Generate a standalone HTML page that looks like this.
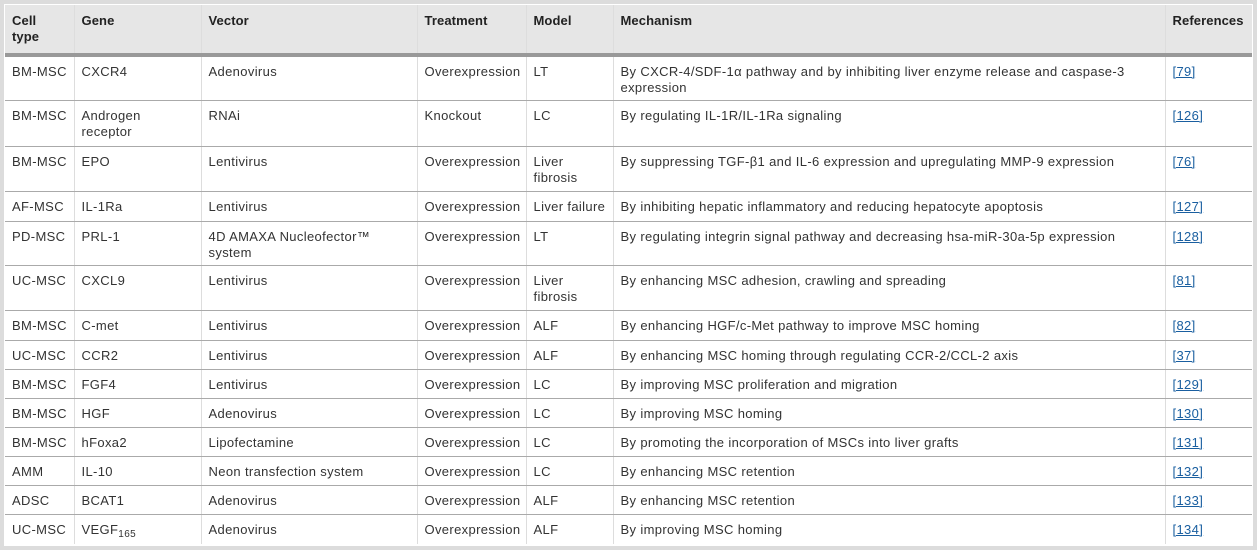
<!DOCTYPE html>
<html><head><meta charset="utf-8"><style>
html,body{margin:0;padding:0;background:#fff;}
body{width:1257px;height:550px;position:relative;overflow:hidden;font-family:"Liberation Sans",Arial,sans-serif;}
.frame{position:absolute;left:0;top:0;width:1249px;height:542px;border:4px solid #dcdcdc;}
table{position:absolute;left:5px;top:5px;width:1247px;border-collapse:collapse;table-layout:fixed;font-size:13px;letter-spacing:0.35px;color:#333;}
td,th{vertical-align:top;padding:7px 6px 0 7px;line-height:16px;border-left:1px solid #ddd;border-bottom:1px solid #aaa;box-sizing:border-box;overflow:hidden;white-space:nowrap;}
td:first-child,th:first-child{border-left:none;}
th{background:#e6e6e6;text-align:left;font-weight:bold;color:#222;border-bottom:4px solid #999;padding-top:8px;letter-spacing:0.1px;}
tr:last-child td{border-bottom:none;}
a{color:#1a5fa0;text-decoration:underline;}
sub{font-size:10px;vertical-align:-3px;line-height:0;}
</style></head><body>
<div class="frame"></div>
<table>
<colgroup><col style="width:69px"><col style="width:127px"><col style="width:216px"><col style="width:109px"><col style="width:87px"><col style="width:552px"><col style="width:87px"></colgroup>
<tr style="height:50px"><th>Cell<br>type</th><th>Gene</th><th>Vector</th><th>Treatment</th><th>Model</th><th>Mechanism</th><th>References</th></tr>
<tr style="height:45px"><td>BM-MSC</td><td>CXCR4</td><td>Adenovirus</td><td>Overexpression</td><td>LT</td><td>By CXCR-4/SDF-1α pathway and by inhibiting liver enzyme release and caspase-3<br>expression</td><td><a>[79]</a></td></tr>
<tr style="height:46px"><td>BM-MSC</td><td>Androgen<br>receptor</td><td>RNAi</td><td>Knockout</td><td>LC</td><td>By regulating IL-1R/IL-1Ra signaling</td><td><a>[126]</a></td></tr>
<tr style="height:45px"><td>BM-MSC</td><td>EPO</td><td>Lentivirus</td><td>Overexpression</td><td>Liver<br>fibrosis</td><td>By suppressing TGF-β1 and IL-6 expression and upregulating MMP-9 expression</td><td><a>[76]</a></td></tr>
<tr style="height:30px"><td>AF-MSC</td><td>IL-1Ra</td><td>Lentivirus</td><td>Overexpression</td><td>Liver failure</td><td>By inhibiting hepatic inflammatory and reducing hepatocyte apoptosis</td><td><a>[127]</a></td></tr>
<tr style="height:44px"><td>PD-MSC</td><td>PRL-1</td><td>4D AMAXA Nucleofector™<br>system</td><td>Overexpression</td><td>LT</td><td>By regulating integrin signal pathway and decreasing hsa-miR-30a-5p expression</td><td><a>[128]</a></td></tr>
<tr style="height:45px"><td>UC-MSC</td><td>CXCL9</td><td>Lentivirus</td><td>Overexpression</td><td>Liver<br>fibrosis</td><td>By enhancing MSC adhesion, crawling and spreading</td><td><a>[81]</a></td></tr>
<tr style="height:30px"><td>BM-MSC</td><td>C-met</td><td>Lentivirus</td><td>Overexpression</td><td>ALF</td><td>By enhancing HGF/c-Met pathway to improve MSC homing</td><td><a>[82]</a></td></tr>
<tr style="height:29px"><td>UC-MSC</td><td>CCR2</td><td>Lentivirus</td><td>Overexpression</td><td>ALF</td><td>By enhancing MSC homing through regulating CCR-2/CCL-2 axis</td><td><a>[37]</a></td></tr>
<tr style="height:29px"><td>BM-MSC</td><td>FGF4</td><td>Lentivirus</td><td>Overexpression</td><td>LC</td><td>By improving MSC proliferation and migration</td><td><a>[129]</a></td></tr>
<tr style="height:29px"><td>BM-MSC</td><td>HGF</td><td>Adenovirus</td><td>Overexpression</td><td>LC</td><td>By improving MSC homing</td><td><a>[130]</a></td></tr>
<tr style="height:29px"><td>BM-MSC</td><td>hFoxa2</td><td>Lipofectamine</td><td>Overexpression</td><td>LC</td><td>By promoting the incorporation of MSCs into liver grafts</td><td><a>[131]</a></td></tr>
<tr style="height:29px"><td>AMM</td><td>IL-10</td><td>Neon transfection system</td><td>Overexpression</td><td>LC</td><td>By enhancing MSC retention</td><td><a>[132]</a></td></tr>
<tr style="height:29px"><td>ADSC</td><td>BCAT1</td><td>Adenovirus</td><td>Overexpression</td><td>ALF</td><td>By enhancing MSC retention</td><td><a>[133]</a></td></tr>
<tr style="height:30px"><td>UC-MSC</td><td>VEGF<sub>165</sub></td><td>Adenovirus</td><td>Overexpression</td><td>ALF</td><td>By improving MSC homing</td><td><a>[134]</a></td></tr>
</table>
</body></html>
